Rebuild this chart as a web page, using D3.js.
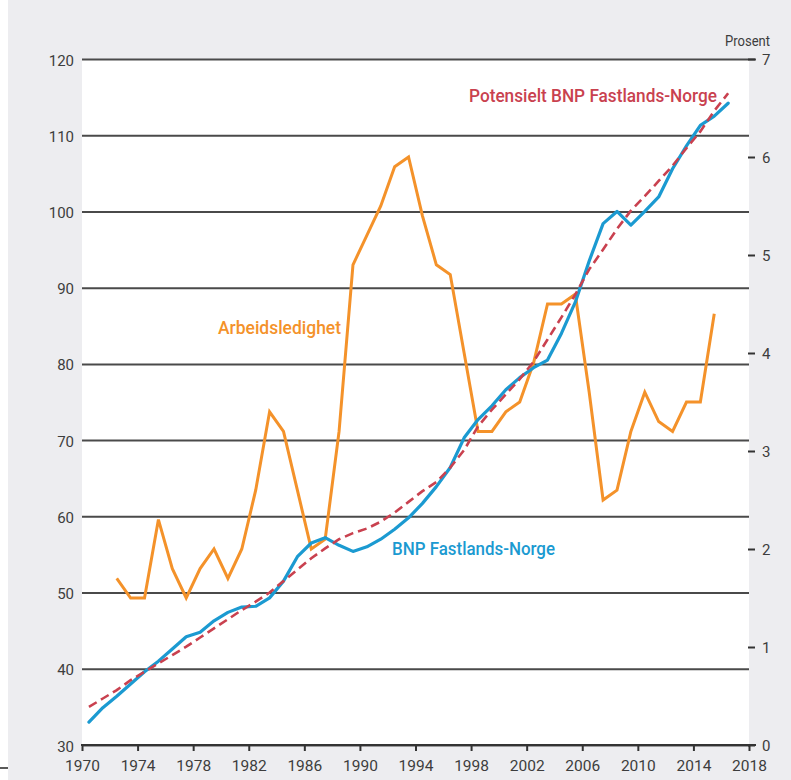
<!DOCTYPE html>
<html>
<head>
<meta charset="utf-8">
<script src="https://cdn.jsdelivr.net/npm/d3@7"></script>
<style>
    body { margin: 0; background: #ffffff; }
    svg { display: block; }
    text { font-family: "Roboto", "Liberation Sans", sans-serif; }
</style>
</head>
<body>
<script>

const MARGIN = {
    TOP : 59,
    BOTTOM : 35,
    LEFT : 82,
    RIGHT : 42,
};

const WIDTH = 791;
const HEIGHT = 780;
const GRAPH_WIDTH = WIDTH - MARGIN.LEFT - MARGIN.RIGHT;
const GRAPH_HEIGHT = HEIGHT - MARGIN.TOP - MARGIN.BOTTOM;

// BNP Fastlands-Norge, index (left axis), 1970-2016
const bnpYears = [1970, 1971, 1972, 1973, 1974, 1975, 1976, 1977, 1978, 1979,
    1980, 1981, 1982, 1983, 1984, 1985, 1986, 1987, 1988, 1989,
    1990, 1991, 1992, 1993, 1994, 1995, 1996, 1997, 1998, 1999,
    2000, 2001, 2002, 2003, 2004, 2005, 2006, 2007, 2008, 2009,
    2010, 2011, 2012, 2013, 2014, 2015, 2016];
const bnp = [33.0, 34.9, 36.4, 38.0, 39.6, 41.0, 42.6, 44.2, 44.8, 46.3,
    47.4, 48.1, 48.2, 49.3, 51.5, 54.7, 56.5, 57.2, 56.2, 55.4,
    56.0, 57.0, 58.3, 59.8, 61.7, 63.9, 66.4, 70.3, 72.7, 74.5,
    76.6, 78.2, 79.5, 80.5, 84.0, 88.1, 93.5, 98.4, 100.0, 98.2,
    100.0, 101.9, 105.6, 108.6, 111.3, 112.5, 114.2];
const potensielt = [35.0, 36.1, 37.2, 38.5, 39.6, 40.7, 41.8, 42.9, 44.1, 45.3,
    46.5, 47.7, 48.8, 50.0, 51.5, 53.0, 54.5, 55.8, 57.0, 57.8,
    58.4, 59.3, 60.5, 61.9, 63.3, 64.5, 66.4, 68.7, 71.8, 74.0,
    76.0, 78.0, 80.3, 83.2, 86.1, 89.1, 92.4, 95.0, 97.7, 100.1,
    102.0, 104.0, 106.0, 108.3, 110.5, 113.2, 115.5];

// Arbeidsledighet, prosent (right axis), 1972-2015
const ledighetYears = [1972, 1973, 1974, 1975, 1976, 1977, 1978, 1979,
    1980, 1981, 1982, 1983, 1984, 1985, 1986, 1987, 1988, 1989,
    1990, 1991, 1992, 1993, 1994, 1995, 1996, 1997, 1998, 1999,
    2000, 2001, 2002, 2003, 2004, 2005, 2006, 2007, 2008, 2009,
    2010, 2011, 2012, 2013, 2014, 2015];
const ledighet = [1.7, 1.5, 1.5, 2.3, 1.8, 1.5, 1.8, 2.0,
    1.7, 2.0, 2.6, 3.4, 3.2, 2.6, 2.0, 2.1, 3.2, 4.9,
    5.2, 5.5, 5.9, 6.0, 5.4, 4.9, 4.8, 4.0, 3.2, 3.2,
    3.4, 3.5, 3.9, 4.5, 4.5, 4.6, 3.6, 2.5, 2.6, 3.2,
    3.6, 3.3, 3.2, 3.5, 3.5, 4.4];

const xTicks = [1970, 1974, 1978, 1982, 1986, 1990, 1994, 1998, 2002, 2006, 2010, 2014, 2018];
const leftTicks = [30, 40, 50, 60, 70, 80, 90, 100, 110, 120];
const rightTicks = [0, 1, 2, 3, 4, 5, 6, 7];

const BLUE = "#1b9ad1";
const ORANGE = "#f4922a";
const RED = "#c9414f";
const GRID = "#4a4a4a";
const TEXT = "#3d3d3d";

var svg = d3.select("body").append("svg")
    .attr("width", WIDTH)
    .attr("height", HEIGHT);

// grey panel + white plot area
svg.append("rect")
    .attr("x", 8).attr("y", 0)
    .attr("width", WIDTH - 8).attr("height", HEIGHT)
    .attr("fill", "#ededf0");
svg.append("rect")
    .attr("x", MARGIN.LEFT).attr("y", MARGIN.TOP)
    .attr("width", GRAPH_WIDTH).attr("height", GRAPH_HEIGHT)
    .attr("fill", "#ffffff");
svg.append("line")
    .attr("x1", 0).attr("x2", 8).attr("y1", 768).attr("y2", 768)
    .attr("stroke", "#222").attr("stroke-width", 1.5);

const x = d3.scaleLinear().domain([1970, 2018]).range([MARGIN.LEFT, MARGIN.LEFT + GRAPH_WIDTH]);
const yLeft = d3.scaleLinear().domain([30, 120]).range([MARGIN.TOP + GRAPH_HEIGHT, MARGIN.TOP]);
const yRight = d3.scaleLinear().domain([0, 7]).range([MARGIN.TOP + GRAPH_HEIGHT, MARGIN.TOP]);

// left axis with gridlines
const leftAxis = svg.append("g")
    .attr("transform", `translate(${MARGIN.LEFT},0)`)
    .call(d3.axisLeft(yLeft).tickValues(leftTicks).tickSize(-GRAPH_WIDTH).tickPadding(8));
leftAxis.select(".domain").remove();
leftAxis.selectAll(".tick line")
    .attr("stroke", GRID)
    .attr("stroke-width", 2)
    .attr("x1", 0);
leftAxis.selectAll(".tick text")
    .attr("fill", TEXT)
    .attr("font-size", 15)
    .attr("dy", "0.4em");
// top gridline reaches the right axis
leftAxis.selectAll(".tick").filter(d => d === 120).select("line").attr("x2", GRAPH_WIDTH + 7);

// right axis
const rightAxis = svg.append("g")
    .attr("transform", `translate(${MARGIN.LEFT + GRAPH_WIDTH - 1},0)`)
    .call(d3.axisRight(yRight).tickValues(rightTicks).tickFormat(d3.format("d")).tickSize(7).tickPadding(7));
rightAxis.select(".domain").remove();
rightAxis.selectAll(".tick line").attr("stroke", "#333").attr("stroke-width", 2);
rightAxis.selectAll(".tick text")
    .attr("fill", TEXT)
    .attr("font-size", 15)
    .attr("dy", "0.36em");

svg.append("text")
    .attr("x", 770)
    .attr("y", 46)
    .attr("text-anchor", "end")
    .attr("fill", TEXT)
    .attr("font-size", 15)
    .attr("textLength", 45)
    .attr("lengthAdjust", "spacingAndGlyphs")
    .text("Prosent");

// bottom axis
const bottomAxis = svg.append("g")
    .attr("transform", `translate(0,${MARGIN.TOP + GRAPH_HEIGHT})`)
    .call(d3.axisBottom(x).tickValues(xTicks).tickFormat(d3.format("d")).tickSize(6).tickPadding(9));
bottomAxis.select(".domain").remove();
bottomAxis.selectAll(".tick line").attr("stroke", "#333").attr("stroke-width", 2);
bottomAxis.selectAll(".tick text")
    .attr("fill", TEXT)
    .attr("font-size", 15.5);
svg.append("line")
    .attr("x1", MARGIN.LEFT - 1)
    .attr("x2", MARGIN.LEFT + GRAPH_WIDTH + 7)
    .attr("y1", MARGIN.TOP + GRAPH_HEIGHT)
    .attr("y2", MARGIN.TOP + GRAPH_HEIGHT)
    .attr("stroke", "#333")
    .attr("stroke-width", 2);

// lines, values plotted mid-year
const leftLine = d3.line()
    .x(d => x(d[0] + 0.5))
    .y(d => yLeft(d[1]));
const rightLine = d3.line()
    .x(d => x(d[0] + 0.5))
    .y(d => yRight(d[1]));

svg.append("path")
    .datum(ledighetYears.map((yr, i) => [yr, ledighet[i]]))
    .attr("d", rightLine)
    .attr("fill", "none")
    .attr("stroke", ORANGE)
    .attr("stroke-width", 3)
    .attr("stroke-linejoin", "miter");

svg.append("path")
    .datum(bnpYears.map((yr, i) => [yr, bnp[i]]))
    .attr("d", leftLine)
    .attr("fill", "none")
    .attr("stroke", BLUE)
    .attr("stroke-width", 3.2)
    .attr("stroke-linejoin", "round")
    .attr("stroke-linecap", "round");

svg.append("path")
    .datum(bnpYears.map((yr, i) => [yr, potensielt[i]]))
    .attr("d", leftLine)
    .attr("fill", "none")
    .attr("stroke", RED)
    .attr("stroke-width", 2.6)
    .attr("stroke-dasharray", "9,5");

// labels
const labels = [
    { text: "Potensielt BNP Fastlands-Norge", x: 469, y: 102, len: 248, color: RED },
    { text: "Arbeidsledighet", x: 218, y: 334, len: 123, color: ORANGE },
    { text: "BNP Fastlands-Norge", x: 392, y: 555, len: 163, color: BLUE },
];
svg.selectAll(".label")
    .data(labels)
    .enter()
    .append("text")
    .attr("class", "label")
    .attr("x", d => d.x)
    .attr("y", d => d.y)
    .attr("fill", d => d.color)
    .attr("font-size", 19)
    .attr("font-weight", 500)
    .attr("textLength", d => d.len)
    .attr("lengthAdjust", "spacingAndGlyphs")
    .text(d => d.text);

</script>
</body>
</html>
